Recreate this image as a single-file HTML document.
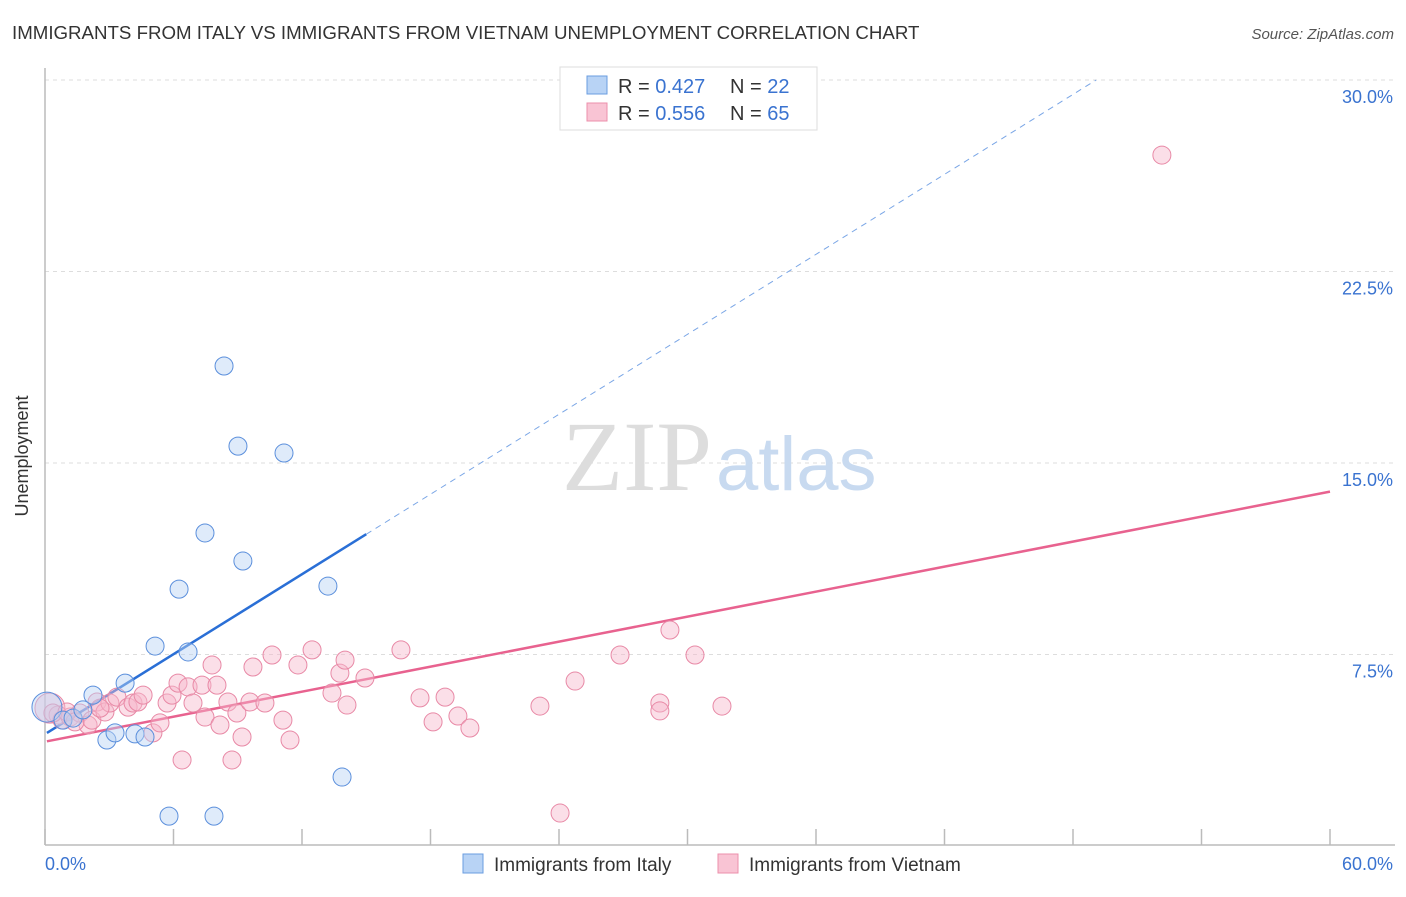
<!DOCTYPE html>
<html><head><meta charset="utf-8"><style>
body{margin:0;background:#fff;font-family:"Liberation Sans",sans-serif}
</style></head><body>
<svg width="1406" height="892" viewBox="0 0 1406 892" xmlns="http://www.w3.org/2000/svg">
<text x="12" y="39" font-size="18.7" fill="#333">IMMIGRANTS FROM ITALY VS IMMIGRANTS FROM VIETNAM UNEMPLOYMENT CORRELATION CHART</text>
<text x="1394" y="39" font-size="15" fill="#555" font-style="italic" text-anchor="end">Source: ZipAtlas.com</text>
<g id="grid"></g>
<text x="712" y="490" font-size="100" fill="#ddd" font-family="Liberation Serif,serif" text-anchor="end">ZIP</text>
<text x="716" y="490" font-size="76" fill="#c8daf0" text-anchor="start">atlas</text>
<g id="axes"></g>
<g id="lines"></g>
<g id="pts"></g>
<text x="28" y="456" font-size="18" fill="#333" text-anchor="middle" transform="rotate(-90 28 456)">Unemployment</text>
<g>
<rect x="560" y="67" width="257" height="63" fill="#fff" stroke="#ddd"/>
<rect x="587" y="76" width="20" height="18" fill="#b8d3f5" stroke="#6a9de0"/>
<rect x="587" y="103" width="20" height="18" fill="#f9c4d4" stroke="#ec8fab"/>
<text x="618" y="93" font-size="20" fill="#333">R = <tspan fill="#3a73d0">0.427</tspan><tspan x="730">N = </tspan><tspan fill="#3a73d0">22</tspan></text>
<text x="618" y="120" font-size="20" fill="#333">R = <tspan fill="#3a73d0">0.556</tspan><tspan x="730">N = </tspan><tspan fill="#3a73d0">65</tspan></text>
</g>
<g>
<rect x="463" y="854" width="20" height="19" fill="#b8d3f5" stroke="#6a9de0"/>
<text x="494" y="871" font-size="19" fill="#333">Immigrants from Italy</text>
<rect x="718" y="854" width="20" height="19" fill="#f9c4d4" stroke="#ec8fab"/>
<text x="749" y="871" font-size="19" fill="#333">Immigrants from Vietnam</text>
</g>
</svg>
<script>
const yTicks=[7.5,15,22.5,30];
const yTickLabels=["7.5%","15.0%","22.5%","30.0%"];
const xTicks=[0,6,12,18,24,30,36,42,48,54,60];
const italyX=[0.09,0.84,1.31,1.77,2.24,2.89,3.27,3.74,4.20,4.67,5.14,6.26,6.68,7.47,8.36,9.01,9.24,11.16,13.21,13.87,5.79,7.89];
const italyY=[5.44,4.93,5.01,5.33,5.91,4.15,4.43,6.38,4.39,4.27,7.83,10.06,7.60,12.26,18.80,15.66,11.16,15.39,10.18,2.70,1.17,1.17];
const vietX=[0.23,0.61,0.79,1.17,1.63,2.01,2.19,2.43,2.80,3.03,3.36,3.88,4.11,4.34,4.58,5.04,5.37,5.70,5.93,6.21,6.68,6.91,7.33,7.47,7.80,8.03,8.17,8.54,8.73,8.96,9.20,9.57,9.71,10.27,10.60,11.11,11.44,11.81,12.47,13.40,13.77,14.01,14.10,14.94,6.40,16.62,17.51,18.68,18.12,19.28,19.84,23.11,24.05,24.75,26.85,28.71,28.71,29.18,30.35,31.61,52.15,0.37,1.03,1.40,2.57];
const vietY=[5.40,5.13,4.94,5.05,5.21,4.74,4.93,5.64,5.25,5.60,5.83,5.44,5.60,5.64,5.91,4.43,4.82,5.60,5.91,6.38,6.23,5.60,6.30,5.05,7.09,6.30,4.74,5.64,3.37,5.21,4.27,5.64,7.01,5.60,7.48,4.93,4.15,7.09,7.68,5.99,6.77,7.28,5.52,6.58,3.37,7.68,5.80,5.83,4.86,5.09,4.62,5.48,1.29,6.46,7.48,5.60,5.29,8.46,7.48,5.48,27.06,5.21,5.25,4.86,5.40];
const italyTrend=[4.38,0.522]; // intercept, slope
const vietTrend=[4.10,0.163];
const NS="http://www.w3.org/2000/svg";
const X=v=>45+v/60*1285, Y=v=>846-v/7.5*191.5;
function mk(tag,at,parent){const e=document.createElementNS(NS,tag);for(const k in at)e.setAttribute(k,at[k]);document.getElementById(parent).appendChild(e);return e;}
yTicks.forEach((t,i)=>{
 const g=mk('line',{x1:45,x2:1395,y1:Y(t),y2:Y(t),stroke:'#ddd','stroke-dasharray':'4,4'},'grid');
 
 
 const l=mk('text',{x:1393,y:Y(t)+23,'font-size':18,fill:'#3a73d0','text-anchor':'end'},'grid');l.textContent=yTickLabels[i];
 
 
});
const ax=mk('line',{x1:45,x2:1395,y1:845,y2:845,stroke:'#bbb','stroke-width':1.5},'axes');


const ay=mk('line',{x1:45,x2:45,y1:68,y2:845,stroke:'#bbb','stroke-width':1.5},'axes');


xTicks.forEach(t=>{const e=mk('line',{x1:X(t),x2:X(t),y1:829,y2:845,stroke:'#bbb','stroke-width':1.5},'axes');
 
 });
[[0,'0.0%','start',45],[60,'60.0%','end',1393]].forEach(a=>{const e=mk('text',{x:a[3],y:870,'font-size':18,fill:'#3a73d0','text-anchor':a[2]},'axes');e.textContent=a[1];
 
 });
function dots(xs,ys,fill,stroke,name){xs.forEach((x,i)=>{const r=i===0?15:9;const c=mk('circle',{cx:X(x),cy:Y(ys[i]),r:r,fill:fill,'fill-opacity':0.45,stroke:stroke,'stroke-width':1},'pts');
 
 });}
dots(vietX,vietY,'#f7b8cb','#e889a6','vietnam-point');
dots(italyX,italyY,'#b8d3f5','#5b8fdc','italy-point');
const xe=(30-italyTrend[0])/italyTrend[1];
const l1=mk('line',{x1:X(0.09),y1:Y(italyTrend[0]+italyTrend[1]*0.09),x2:X(15),y2:Y(italyTrend[0]+italyTrend[1]*15),stroke:'#2a6fd6','stroke-width':2.5},'lines');


const l2=mk('line',{x1:X(15),y1:Y(italyTrend[0]+italyTrend[1]*15),x2:X(xe),y2:Y(30),stroke:'#7aa6e6','stroke-width':1,'stroke-dasharray':'6,5'},'lines');


const l3=mk('line',{x1:X(0.09),y1:Y(vietTrend[0]),x2:X(60),y2:Y(vietTrend[0]+vietTrend[1]*60),stroke:'#e8628f','stroke-width':2.5},'lines');


</script>
</body></html>
